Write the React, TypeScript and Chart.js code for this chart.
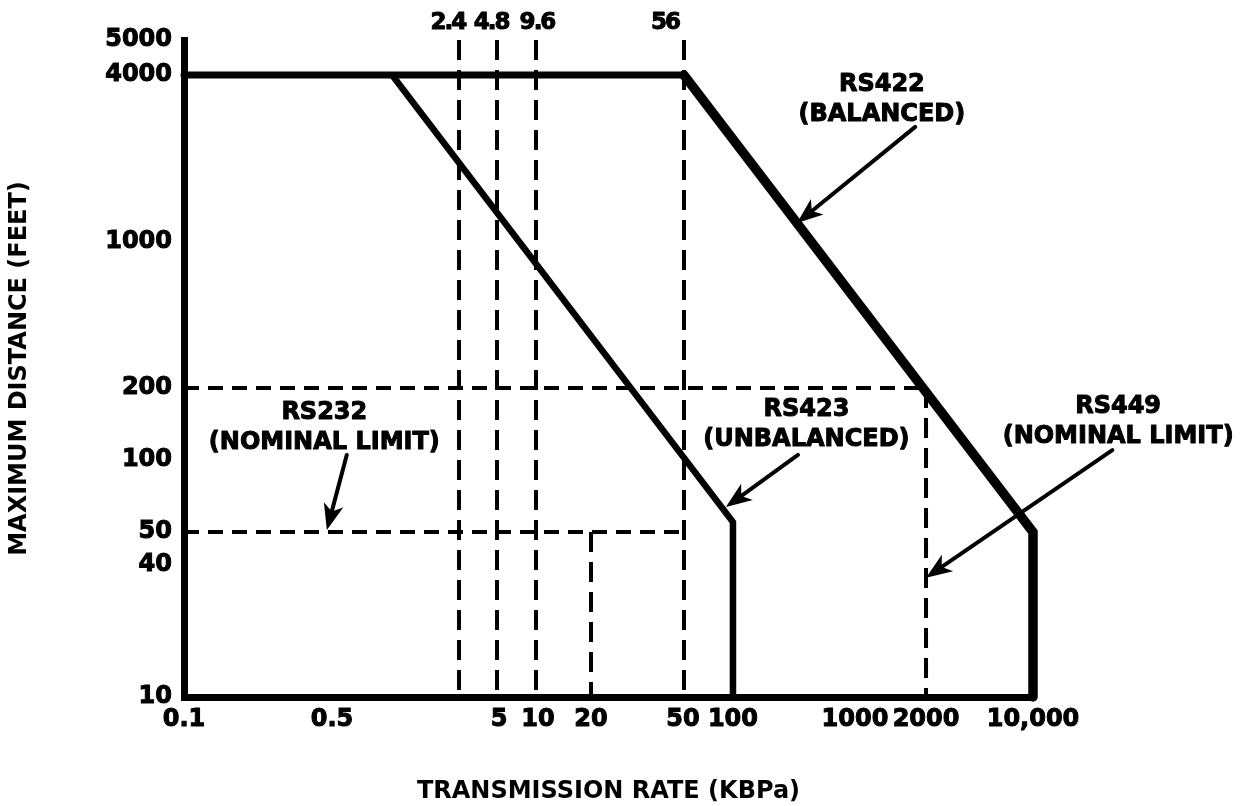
import React, { useEffect, useRef } from 'react';
import { Chart, registerables, LinearScale } from 'chart.js';

// ---------------- data (transmission rate in KBPS, distance in feet) ----------------
const rateMin = 0.1;
const rateMax = 10000;
const distanceMin = 10;
const distanceMax = 5000;

const rateTicks = [0.1, 0.5, 5, 10, 20, 50, 100, 1000, 2000, 10000];
const rateTickLabels = ['0.1', '0.5', '5', '10', '20', '50', '100', '1000', '2000', '10,000'];
const distanceTicks = [10, 40, 50, 100, 200, 1000, 4000, 5000];
const distanceTickLabels = ['10', '40', '50', '100', '200', '1000', '4000', '5000'];

const baudRates = [2.4, 4.8, 9.6, 56];
const baudLabels = ['2.4', '4.8', '9.6', '56'];

const rs422Rate = [0.1, 56, 10000, 10000];
const rs422Distance = [4000, 4000, 50, 10];
const rs423Rate = [1.05, 100, 100];
const rs423Distance = [4000, 55, 10];

const guideDistance = [200, 50];
const guideRateEnd = [2000, 56];
const dropRate = [20, 2000];
const dropDistance = [50, 200];

// ---------------- schematic axis definition (non-uniform log axes) ----------------
const rateAnchors = [0.1, 0.5, 2.4, 4.8, 5, 9.6, 10, 20, 50, 56, 100, 1000, 2000, 10000];
const rateAnchorFrac = [0, 0.1743, 0.3239, 0.3687, 0.371, 0.4146, 0.417, 0.4794, 0.5878, 0.5889, 0.6466, 0.7903, 0.874, 1];
const distanceAnchors = [10, 40, 50, 100, 200, 1000, 4000, 5000];
const distanceAnchorFrac = [0, 0.2009, 0.2511, 0.3607, 0.4703, 0.6926, 0.9467, 1];

const axisAnchors: Record<string, { values: number[]; fracs: number[]; ticks: number[] }> = {
  x: { values: rateAnchors, fracs: rateAnchorFrac, ticks: rateTicks },
  y: { values: distanceAnchors, fracs: distanceAnchorFrac, ticks: distanceTicks },
};

// ---------------- annotations ----------------
const notes = [
  { text: ['RS422', '(BALANCED)'], at: [1300, 3250], from: [1800, 2600], to: [335, 1170] },
  { text: ['RS232', '(NOMINAL LIMIT)'], at: [0.46, 137], from: [0.6, 105], to: [0.473, 51] },
  { text: ['RS423', '(UNBALANCED)'], at: [400, 140], from: [341, 105], to: [92, 63.6] },
  { text: ['RS449', '(NOMINAL LIMIT)'], at: [36000, 145], from: [33000, 110], to: [2000, 35] },
];
// horizontal nudges (px) of the baud-rate captions above the dashed verticals
const baudLabelNudge = [-11, -6, 1, -19];

class AnchoredLogScale extends (LinearScale as any) {
  static id = 'anchoredLog';
  static defaults = {};

  _anchors() {
    return axisAnchors[(this as any).id];
  }

  _decimalFor(v: number) {
    const { values, fracs } = this._anchors();
    let i = 0;
    while (i < values.length - 2 && v > values[i + 1]) i++;
    const l0 = Math.log10(values[i]);
    const l1 = Math.log10(values[i + 1]);
    const t = (Math.log10(v) - l0) / (l1 - l0);
    return fracs[i] + t * (fracs[i + 1] - fracs[i]);
  }

  getPixelForValue(value: number) {
    if (value === null || value === undefined || !isFinite(value) || value <= 0) return NaN;
    return (this as any).getPixelForDecimal(this._decimalFor(value));
  }

  getValueForPixel(pixel: number) {
    const d = (this as any).getDecimalForPixel(pixel);
    const { values, fracs } = this._anchors();
    let i = 0;
    while (i < fracs.length - 2 && d > fracs[i + 1]) i++;
    const t = (d - fracs[i]) / (fracs[i + 1] - fracs[i]);
    const l0 = Math.log10(values[i]);
    const l1 = Math.log10(values[i + 1]);
    return Math.pow(10, l0 + t * (l1 - l0));
  }

  buildTicks() {
    return this._anchors().ticks.map((v) => ({ value: v }));
  }
}

Chart.register(...registerables, AnchoredLogScale as any);

const FONT = '"DejaVu Sans", "Liberation Sans", sans-serif';

function strokedText(ctx: CanvasRenderingContext2D, s: string, x: number, y: number) {
  ctx.strokeText(s, x, y);
  ctx.fillText(s, x, y);
}

const notesPlugin = {
  id: 'notes',
  afterDatasetsDraw(chart: any) {
    const { ctx } = chart;
    const xs = chart.scales.x;
    const ys = chart.scales.y;
    ctx.save();
    ctx.fillStyle = '#000';
    ctx.strokeStyle = '#000';
    ctx.lineJoin = 'round';
    ctx.textAlign = 'center';
    ctx.textBaseline = 'middle';

    // baud-rate captions above the dashed verticals
    const topY = ys.getPixelForValue(distanceMax);
    ctx.lineWidth = 1;
    ctx.font = `bold 23px ${FONT}`;
    (ctx as any).letterSpacing = '-2px';
    baudRates.forEach((r, i) => {
      strokedText(ctx, baudLabels[i], xs.getPixelForValue(r) + baudLabelNudge[i], topY - 17);
    });
    (ctx as any).letterSpacing = '0px';

    ctx.font = `bold 24px ${FONT}`;
    for (const n of notes) {
      const cx = xs.getPixelForValue(n.at[0]);
      const cy = ys.getPixelForValue(n.at[1]);
      ctx.lineWidth = 1;
      n.text.forEach((t, i) => strokedText(ctx, t, cx, cy + (i - (n.text.length - 1) / 2) * 30));
      const x0 = xs.getPixelForValue(n.from[0]);
      const y0 = ys.getPixelForValue(n.from[1]);
      const x1 = xs.getPixelForValue(n.to[0]);
      const y1 = ys.getPixelForValue(n.to[1]);
      const ang = Math.atan2(y1 - y0, x1 - x0);
      const headLen = 26;
      const headHalf = 10;
      const bx = x1 - headLen * Math.cos(ang);
      const by = y1 - headLen * Math.sin(ang);
      ctx.lineWidth = 4;
      ctx.lineCap = 'round';
      ctx.beginPath();
      ctx.moveTo(x0, y0);
      ctx.lineTo(bx + 6 * Math.cos(ang), by + 6 * Math.sin(ang));
      ctx.stroke();
      ctx.beginPath();
      ctx.moveTo(x1, y1);
      ctx.lineTo(bx + headHalf * Math.sin(ang), by - headHalf * Math.cos(ang));
      ctx.lineTo(bx + 7 * Math.cos(ang), by + 7 * Math.sin(ang));
      ctx.lineTo(bx - headHalf * Math.sin(ang), by + headHalf * Math.cos(ang));
      ctx.closePath();
      ctx.fill();
    }
    ctx.restore();
  },
};

function lineSet(xs: number[], ys: number[], width: number, dash: number[] = [], extra: any = {}) {
  return {
    data: xs.map((x, i) => ({ x, y: ys[i] })),
    borderColor: '#000',
    backgroundColor: '#000',
    borderWidth: width,
    borderDash: dash,
    pointRadius: 0,
    fill: false,
    tension: 0,
    clip: false,
    ...extra,
  };
}

export default function App() {
  const ref = useRef<HTMLCanvasElement>(null);

  useEffect(() => {
    document.body.style.margin = '0';
    const canvas = ref.current;
    if (!canvas) return;

    const datasets: any[] = [];
    const vDash = [20, 10];
    const hDash = [15, 9];
    baudRates.forEach((r) => datasets.push(lineSet([r, r], [distanceMax, distanceMin], 4, vDash)));
    dropRate.forEach((r, i) => datasets.push(lineSet([r, r], [dropDistance[i], distanceMin], 4, vDash)));
    guideDistance.forEach((d, i) => datasets.push(lineSet([rateMin, guideRateEnd[i]], [d, d], 4, hDash)));
    datasets.push(lineSet(rs423Rate, rs423Distance, 6.5, [], { borderJoinStyle: 'miter' }));
    datasets.push(
      lineSet(rs422Rate, rs422Distance, 9.5, [], {
        borderJoinStyle: 'miter',
        borderCapStyle: 'round',
        segment: { borderWidth: (c: any) => (c.p0DataIndex === 0 ? 7 : 9.5) },
      })
    );

    const tickFont = { family: FONT, size: 24, weight: 'bold' as const };

    const chart = new Chart(canvas, {
      type: 'line',
      data: { datasets },
      plugins: [notesPlugin],
      options: {
        animation: false,
        responsive: false,
        events: [],
        layout: { padding: { left: 0, right: 213, top: 40, bottom: 0 } },
        plugins: { legend: { display: false }, tooltip: { enabled: false } },
        scales: {
          x: {
            type: 'anchoredLog' as any,
            position: 'bottom',
            min: rateMin,
            max: rateMax,
            grid: { display: false, drawTicks: false },
            border: { display: true, width: 7, color: '#000' },
            ticks: {
              autoSkip: false,
              maxRotation: 0,
              minRotation: 0,
              padding: 8,
              color: '#000',
              textStrokeColor: '#000',
              textStrokeWidth: 1,
              font: tickFont,
              callback: (_v: any, i: number) => rateTickLabels[i],
            },
            title: {
              display: true,
              text: 'TRANSMISSION RATE (KBPa)',
              color: '#000',
              font: { family: FONT, size: 24, weight: 'bold' },
              padding: { top: 0, bottom: 0 },
            },
            afterFit: (s: any) => {
              s.height = 109;
            },
          } as any,
          y: {
            type: 'anchoredLog' as any,
            position: 'left',
            min: distanceMin,
            max: distanceMax,
            grid: { display: false, drawTicks: false },
            border: { display: true, width: 7, color: '#000' },
            ticks: {
              autoSkip: false,
              padding: 12,
              color: '#000',
              textStrokeColor: '#000',
              textStrokeWidth: 1,
              font: tickFont,
              callback: (_v: any, i: number) => distanceTickLabels[i],
            },
            title: {
              display: true,
              text: 'MAXIMUM DISTANCE (FEET)',
              color: '#000',
              font: { family: FONT, size: 24, weight: 'bold' },
              padding: { top: 5, bottom: 0 },
            },
            afterFit: (s: any) => {
              s.width = 184;
            },
          } as any,
        },
      },
    });

    return () => chart.destroy();
  }, []);

  return (
    <div style={{ width: 1246, height: 806, background: '#fff' }}>
      <canvas ref={ref} width={1246} height={806} style={{ display: 'block' }} />
    </div>
  );
}
